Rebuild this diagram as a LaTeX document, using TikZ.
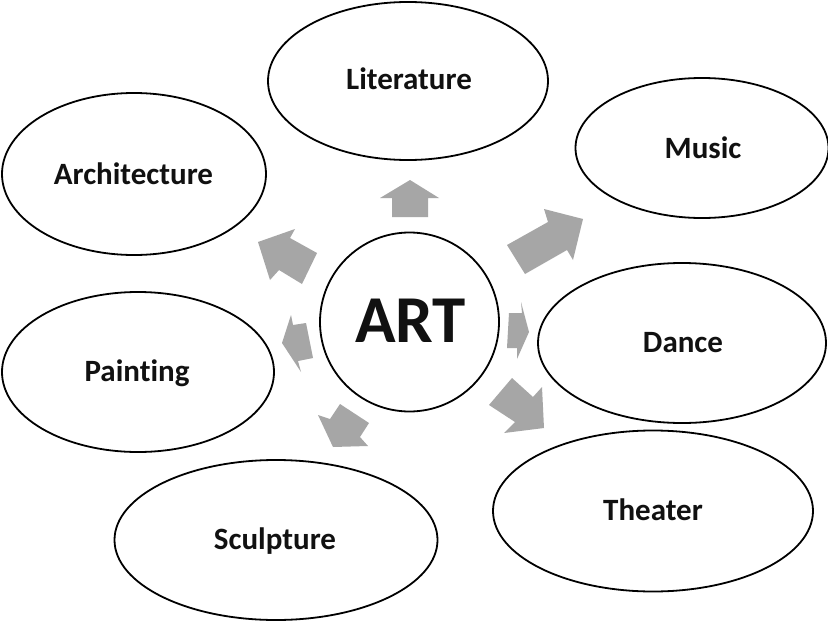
\documentclass[tikz,border=0pt]{standalone}
\usepackage{fontspec}
\setmainfont{Carlito}[Ligatures=NoCommon]
\usetikzlibrary{shapes.geometric}
\definecolor{arrowgray}{HTML}{A6A6A6}
\definecolor{ink}{HTML}{111111}
\tikzset{
  oval/.style={draw=black, line width=1.8pt, ellipse, inner sep=0pt, fill=white},
  lab/.style={font=\fontsize{31}{31}\selectfont\bfseries, text=ink, anchor=base, inner sep=0pt},
  blockarrow/.style={fill=arrowgray, draw=none}
}
\begin{document}
\begin{tikzpicture}[x=1pt, y=-1pt]
\useasboundingbox[fill=white] (0,0) rectangle (828,621);
% ellipses
\node[oval, minimum width=280pt, minimum height=158pt] (lit) at (408,81) {};
\node[oval, minimum width=253pt, minimum height=140pt] (mus) at (702,148) {};
\node[oval, minimum width=264pt, minimum height=162pt] (arc) at (134,174) {};
\node[oval, minimum width=288pt, minimum height=160pt] (dan) at (682,343) {};
\node[oval, minimum width=272pt, minimum height=160pt] (pai) at (138,372) {};
\node[oval, minimum width=320pt, minimum height=161pt] (the) at (653,511) {};
\node[oval, minimum width=323pt, minimum height=160pt] (scu) at (276,540) {};
\node[draw=black, line width=1.8pt, circle, minimum size=179pt, inner sep=0pt] (art) at (409.5,322) {};
% labels
\node[lab] (litT) at (409,89) {Literature};
\node[lab] (musT) at (703,158) {Music};
\node[lab] (arcT) at (133.5,184) {Architecture};
\node[lab] (danT) at (683,352) {Dance};
\node[lab] (paiT) at (137,381) {Painting};
\node[lab] (theT) at (653,520) {Theater};
\node[lab] (scuT) at (275,549) {Sculpture};
\node[lab, font=\fontsize{67}{67}\selectfont\bfseries] (artT) at (410.5,342) {ART};
% block arrows
\fill[blockarrow] (392,217) -- (428,217) -- (428,198) -- (439,198) -- (410,180) -- (380,198) -- (392,198) -- cycle;
\fill[blockarrow] (507,245) -- (548,222) -- (544,209) -- (583,219) -- (573,260) -- (567,250) -- (525,274) -- cycle;
\fill[blockarrow] (509,313) -- (522,313) -- (521,302) -- (529,332) -- (517,359) -- (517,348) -- (507,348) -- cycle;
\fill[blockarrow] (512,378) -- (533,397) -- (542,387) -- (544,428) -- (504,433) -- (515,422) -- (489,405) -- cycle;
\fill[blockarrow] (340,404) -- (369,423) -- (360,437) -- (368,446) -- (333,447) -- (318,415) -- (330,419) -- cycle;
\fill[blockarrow] (291,315) -- (293,325) -- (306,323) -- (313,358) -- (298,361) -- (301,372) -- (282,343) -- cycle;
\fill[blockarrow] (258,242) -- (295,229) -- (290,238) -- (317,253) -- (302,284) -- (279,270) -- (270,280) -- cycle;
\end{tikzpicture}
\end{document}
